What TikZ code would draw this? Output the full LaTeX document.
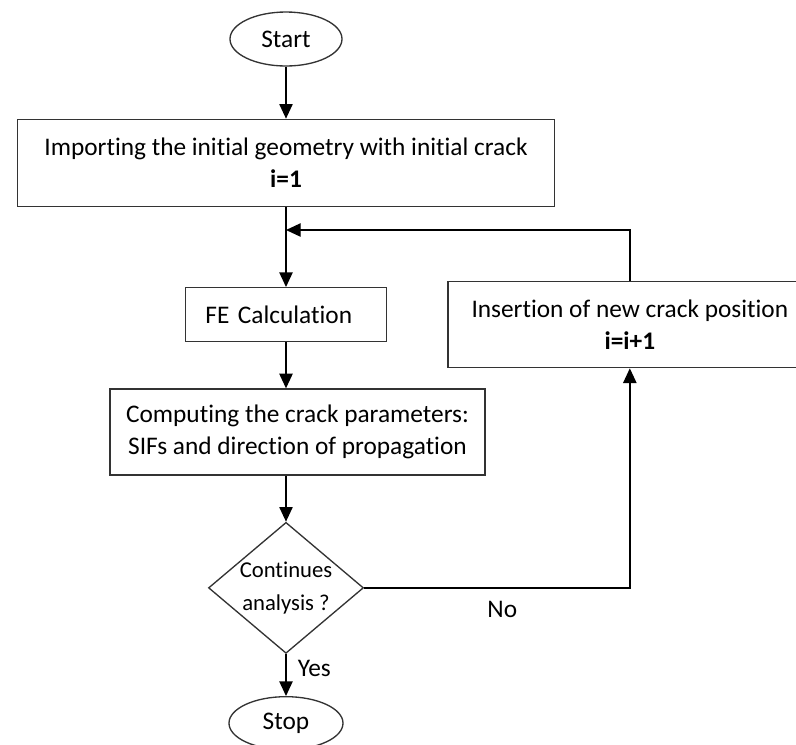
\documentclass[tikz,border=0pt]{standalone}
\usepackage{fontspec}
\setmainfont{Carlito}[Ligatures=NoCommon]
\usetikzlibrary{positioning,arrows.meta,shapes.geometric}
\tikzstyle{terminal} = [ellipse, draw=black!80, line width=1pt, inner sep=0pt]
\tikzstyle{process} = [rectangle, draw=black!80, line width=1pt, align=center, inner xsep=2pt]
\tikzstyle{decision} = [diamond, draw=black!80, line width=1pt, inner sep=0pt]
\tikzstyle{flow} = [line width=1pt, -{Triangle[length=11pt,width=10pt]}, draw=black]

\begin{document}
\begin{tikzpicture}[font=\fontsize{19}{24.5}\selectfont]
        \useasboundingbox (-214.5pt,29.25pt) rectangle (382.5pt,-528.75pt);
        % Main column ------------------------------------------------------------------------------
        \node[terminal, minimum width=84pt, minimum height=40.5pt](start){Start};
        \node[process, minimum width=402.75pt, minimum height=65.25pt, below=39pt of start](import){Importing the initial geometry with initial crack\\\textbf{i=1}};
        \node[process, minimum height=40.5pt, inner xsep=15pt, text width=120.75pt, align=left, below=60pt of import](fe){FE Calculation};
        \node[process, minimum width=281.25pt, minimum height=64.5pt, below=34.5pt of fe, xshift=8.6pt](comp){Computing the crack parameters:\\SIFs and direction of propagation};
        \node[decision, minimum width=116.25pt, minimum height=98.25pt, below=34.5pt of comp.south, xshift=-8.6pt, label={[align=center, font=\fontsize{17}{25}\selectfont]center:Continues\\analysis ?}](dec){};
        \node[terminal, minimum width=85.5pt, minimum height=39.75pt, below=31.5pt of dec](stop){Stop};
        % Loop -------------------------------------------------------------------------------------
        \node[process, minimum width=273pt, minimum height=64.5pt, right=45pt of fe, yshift=-7.5pt](ins){Insertion of new crack position\\\textbf{i=i+1}};
        \coordinate[above=38.25pt of ins.north](loop_top);
        % Arrows -----------------------------------------------------------------------------------
        \draw[flow] (start) -- (import);
        \draw[flow] (import) -- (fe);
        \draw[flow] (fe) -- (fe.south |- comp.north);
        \draw[flow] (fe.south |- comp.south) -- (dec);
        \draw[flow] (dec) -- node[midway, right=5pt, yshift=5pt]{Yes} (stop);
        \draw[flow] (dec.east) -| node[pos=0.26, below=6.5pt]{No} (ins);
        \draw[flow] (ins.north) -- (loop_top) -- (loop_top -| import.south);
    \end{tikzpicture}
\end{document}
